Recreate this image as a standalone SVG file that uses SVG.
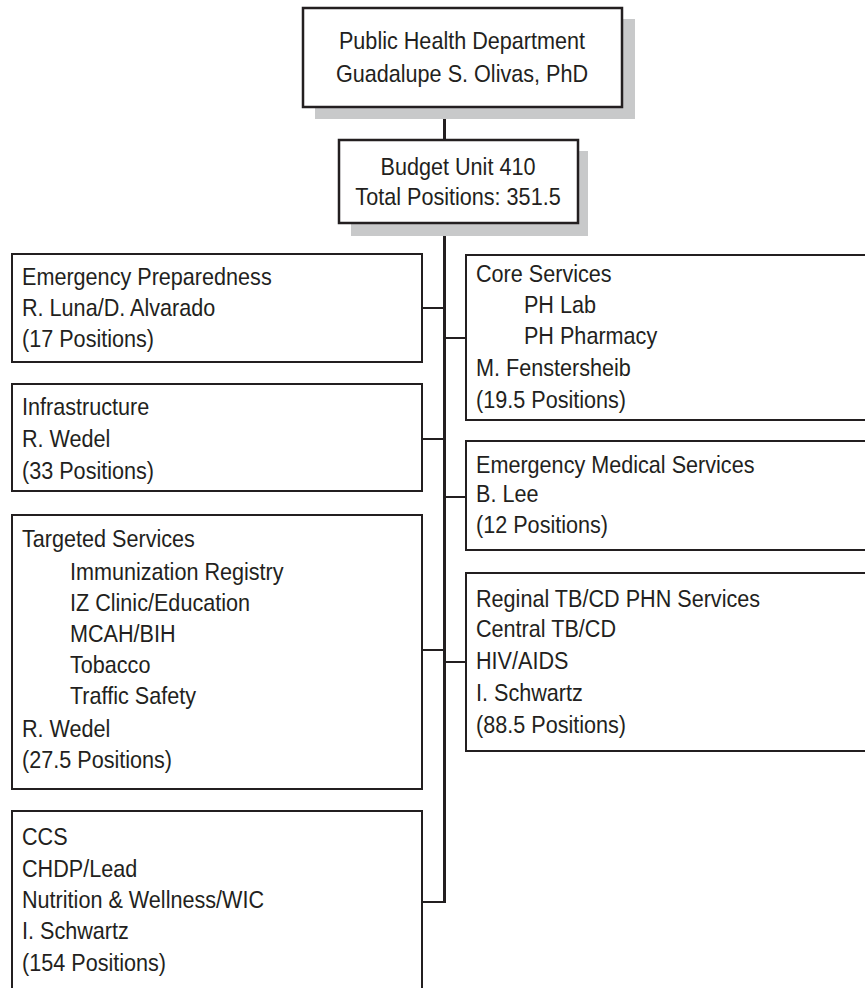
<svg xmlns="http://www.w3.org/2000/svg" width="865" height="988" viewBox="0 0 865 988">
  <style>
    .box { fill: #ffffff; stroke: #231f20; stroke-width: 2; }
    .head { fill: #ffffff; stroke: #231f20; stroke-width: 2.5; }
    .shadow { fill: #c8c9ca; stroke: none; }
    .wire { stroke: #231f20; stroke-width: 2; fill: none; }
    .trunk { stroke: #231f20; stroke-width: 3; fill: none; }
    text { font-family: "Liberation Sans", Arial, sans-serif; font-size: 24px; fill: #231f20; }
    .c { text-anchor: middle; }
  </style>

  <!-- connectors -->
  <g id="connectors">
    <line class="trunk" x1="444.5" y1="107" x2="444.5" y2="140"/>
    <line class="trunk" x1="444.5" y1="223" x2="444.5" y2="903"/>
    <!-- left branches -->
    <line class="wire" x1="422" y1="308" x2="444.5" y2="308"/>
    <line class="wire" x1="422" y1="439" x2="444.5" y2="439"/>
    <line class="wire" x1="422" y1="650" x2="444.5" y2="650"/>
    <line class="wire" x1="422" y1="902" x2="444.5" y2="902"/>
    <!-- right branches -->
    <line class="wire" x1="444.5" y1="338" x2="466" y2="338"/>
    <line class="wire" x1="444.5" y1="497" x2="466" y2="497"/>
    <line class="wire" x1="444.5" y1="662" x2="466" y2="662"/>
  </g>

  <!-- department head -->
  <g id="public-health">
    <rect class="shadow" x="315" y="19" width="320" height="100"/>
    <rect class="head" x="303" y="8" width="319" height="99"/>
    <g transform="translate(462 0) scale(0.9 1)">
      <text class="c" x="0" y="49">Public Health Department</text>
      <text class="c" x="0" y="82">Guadalupe S. Olivas, PhD</text>
    </g>
  </g>

  <!-- budget unit -->
  <g id="budget-unit">
    <rect class="shadow" x="351" y="151" width="237" height="85"/>
    <rect class="head" x="339" y="140" width="239" height="83"/>
    <g transform="translate(458 0) scale(0.9 1)">
      <text class="c" x="0" y="175">Budget Unit 410</text>
      <text class="c" x="0" y="205">Total Positions: 351.5</text>
    </g>
  </g>

  <!-- left column -->
  <g id="emergency-preparedness">
    <rect class="box" x="12" y="254" width="410" height="108"/>
    <g transform="translate(22 0) scale(0.9 1)">
      <text x="0" y="285">Emergency Preparedness</text>
      <text x="0" y="316">R. Luna/D. Alvarado</text>
      <text x="0" y="347">(17 Positions)</text>
    </g>
  </g>

  <g id="infrastructure">
    <rect class="box" x="12" y="384" width="410" height="107"/>
    <g transform="translate(22 0) scale(0.9 1)">
      <text x="0" y="415">Infrastructure</text>
      <text x="0" y="447">R. Wedel</text>
      <text x="0" y="479">(33 Positions)</text>
    </g>
  </g>

  <g id="targeted-services">
    <rect class="box" x="12" y="515" width="410" height="274"/>
    <g transform="translate(22 0) scale(0.9 1)">
      <text x="0" y="547">Targeted Services</text>
      <text x="53.3" y="580">Immunization Registry</text>
      <text x="53.3" y="611">IZ Clinic/Education</text>
      <text x="53.3" y="642">MCAH/BIH</text>
      <text x="53.3" y="673">Tobacco</text>
      <text x="53.3" y="704">Traffic Safety</text>
      <text x="0" y="737">R. Wedel</text>
      <text x="0" y="768">(27.5 Positions)</text>
    </g>
  </g>

  <g id="ccs">
    <rect class="box" x="12" y="811" width="410" height="190"/>
    <g transform="translate(22 0) scale(0.9 1)">
      <text x="0" y="845">CCS</text>
      <text x="0" y="877">CHDP/Lead</text>
      <text x="0" y="908">Nutrition &amp; Wellness/WIC</text>
      <text x="0" y="939">I. Schwartz</text>
      <text x="0" y="971">(154 Positions)</text>
    </g>
  </g>

  <!-- right column -->
  <g id="core-services">
    <rect class="box" x="466" y="255" width="420" height="165"/>
    <g transform="translate(476 0) scale(0.9 1)">
      <text x="0" y="282">Core Services</text>
      <text x="53.3" y="313">PH Lab</text>
      <text x="53.3" y="344">PH Pharmacy</text>
      <text x="0" y="376">M. Fenstersheib</text>
      <text x="0" y="408">(19.5 Positions)</text>
    </g>
  </g>

  <g id="emergency-medical-services">
    <rect class="box" x="466" y="441" width="420" height="109"/>
    <g transform="translate(476 0) scale(0.9 1)">
      <text x="0" y="473">Emergency Medical Services</text>
      <text x="0" y="502">B. Lee</text>
      <text x="0" y="533">(12 Positions)</text>
    </g>
  </g>

  <g id="tb-cd-phn-services">
    <rect class="box" x="466" y="573" width="420" height="178"/>
    <g transform="translate(476 0) scale(0.9 1)">
      <text x="0" y="607">Reginal TB/CD PHN Services</text>
      <text x="0" y="637">Central TB/CD</text>
      <text x="0" y="669">HIV/AIDS</text>
      <text x="0" y="701">I. Schwartz</text>
      <text x="0" y="733">(88.5 Positions)</text>
    </g>
  </g>
</svg>
